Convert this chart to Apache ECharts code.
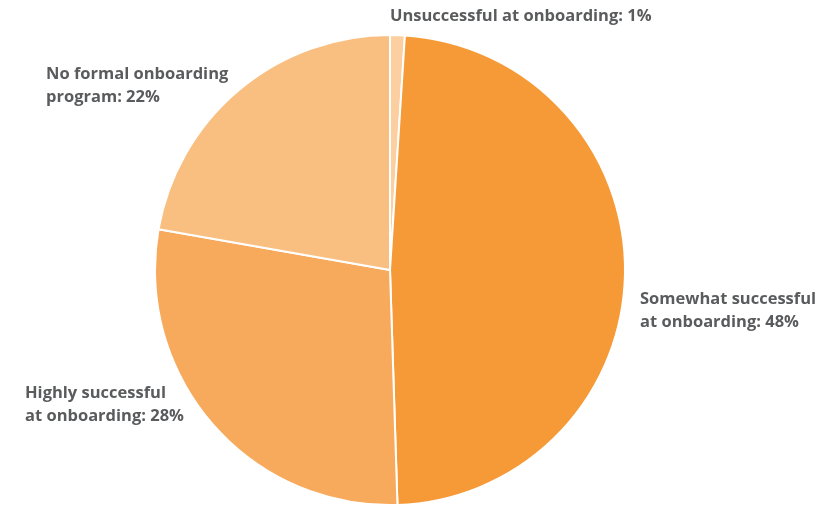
<!DOCTYPE html>
<html>
<head>
<meta charset="utf-8">
<script src="https://cdn.jsdelivr.net/npm/echarts@6/dist/echarts.min.js"></script>
<style>
  html, body { margin: 0; padding: 0; background: #ffffff; }
  #chart { width: 830px; height: 506px; }
</style>
</head>
<body>
<div id="chart"></div>
<script>
// Onboarding outcomes, clockwise from 12 o'clock
const categories = [
  'Unsuccessful at onboarding',
  'Somewhat successful at onboarding',
  'Highly successful at onboarding',
  'No formal onboarding program'
];
const shares = [1, 48, 28, 22];
// Label text as printed, line breaks included
const labelLines = [
  'Unsuccessful at onboarding: 1%',
  'Somewhat successful\nat onboarding: 48%',
  'Highly successful\nat onboarding: 28%',
  'No formal onboarding\nprogram: 22%'
];

const sliceColors = ['#fbcf9f', '#f59a36', '#f7aa5c', '#f9bf81'];
// Where each label's top-left corner sits
const labelSpots = [
  { x: 390, y: 5 },
  { x: 640, y: 288 },
  { x: 25, y: 382 },
  { x: 46, y: 63 }
];

const chart = echarts.init(document.getElementById('chart'), null, { renderer: 'canvas' });

chart.setOption({
  animation: false,
  backgroundColor: '#ffffff',
  series: [{
    type: 'pie',
    center: [390, 270],
    radius: [0, 235],
    startAngle: 90,
    clockwise: true,
    avoidLabelOverlap: false,
    data: categories.map((name, i) => ({
      name,
      value: shares[i],
      itemStyle: { color: sliceColors[i] }
    })),
    itemStyle: { borderColor: '#ffffff', borderWidth: 2 },
    label: {
      show: true,
      position: 'outside',
      formatter: p => labelLines[p.dataIndex],
      fontFamily: 'Open Sans',
      fontWeight: 'bold',
      fontSize: 16.5,
      lineHeight: 23,
      color: '#5a5b5d',
      align: 'left'
    },
    labelLine: { show: false },
    labelLayout: p => ({
      x: labelSpots[p.dataIndex].x,
      y: labelSpots[p.dataIndex].y,
      align: 'left',
      verticalAlign: 'top'
    }),
    emphasis: { disabled: true }
  }]
});
</script>
</body>
</html>
